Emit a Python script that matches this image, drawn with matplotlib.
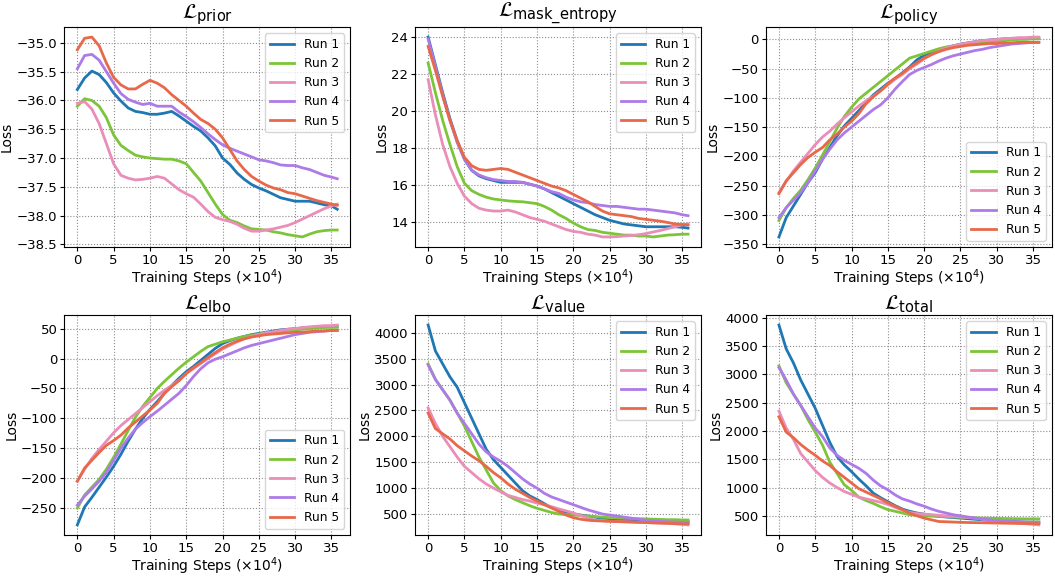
import matplotlib
matplotlib.use('Agg')
import matplotlib.pyplot as plt
from matplotlib.ticker import MultipleLocator

steps = list(range(36)) + [35.8]
run_names = ['Run 1', 'Run 2', 'Run 3', 'Run 4', 'Run 5']
run_colors = ['#1f77b4', '#7cc539', '#ea8db8', '#ad7ae8', '#e8684a']

prior = [
    [-35.81, -35.61, -35.49, -35.55, -35.69, -35.87, -36.01, -36.13, -36.19, -36.21, -36.24, -36.24,
     -36.22, -36.19, -36.27, -36.36, -36.45, -36.53, -36.65, -36.79, -37.0, -37.11, -37.26, -37.37,
     -37.46, -37.52, -37.57, -37.63, -37.69, -37.72, -37.75, -37.75, -37.75, -37.78, -37.81, -37.83, -37.89],
    [-36.1, -35.97, -36.0, -36.1, -36.3, -36.6, -36.78, -36.87, -36.95, -36.98, -37.0, -37.01,
     -37.02, -37.02, -37.05, -37.1, -37.25, -37.4, -37.6, -37.8, -37.98, -38.08, -38.12, -38.18,
     -38.23, -38.24, -38.25, -38.28, -38.3, -38.33, -38.35, -38.37, -38.32, -38.28, -38.26, -38.25, -38.25],
    [-36.05, -36.02, -36.15, -36.4, -36.75, -37.1, -37.3, -37.35, -37.38, -37.37, -37.35, -37.32,
     -37.35, -37.45, -37.55, -37.62, -37.68, -37.8, -37.93, -38.03, -38.07, -38.1, -38.15, -38.22,
     -38.27, -38.27, -38.25, -38.23, -38.2, -38.17, -38.12, -38.06, -38.0, -37.94, -37.88, -37.83, -37.8],
    [-35.45, -35.22, -35.2, -35.3, -35.5, -35.7, -35.88, -35.98, -36.03, -36.07, -36.05, -36.1,
     -36.1, -36.1, -36.2, -36.28, -36.37, -36.47, -36.58, -36.68, -36.77, -36.83, -36.88, -36.93,
     -36.98, -37.03, -37.05, -37.08, -37.12, -37.13, -37.13, -37.17, -37.2, -37.25, -37.3, -37.33, -37.36],
    [-35.12, -34.92, -34.9, -35.05, -35.35, -35.6, -35.73, -35.8, -35.8, -35.72, -35.65, -35.7,
     -35.78, -35.9, -36.0, -36.1, -36.22, -36.33, -36.4, -36.5, -36.65, -36.85, -37.05, -37.2,
     -37.32, -37.4, -37.47, -37.52, -37.55, -37.6, -37.62, -37.66, -37.7, -37.74, -37.77, -37.8, -37.82],
]

mask_entropy = [
    [24.0, 22.5, 21.0, 19.6, 18.4, 17.4, 16.8, 16.5, 16.35, 16.25, 16.15, 16.15, 16.15, 16.15, 16.05,
     15.95, 15.8, 15.6, 15.4, 15.2, 15.0, 14.8, 14.6, 14.4, 14.25, 14.1, 14.0, 13.9, 13.85, 13.8,
     13.75, 13.75, 13.75, 13.75, 13.75, 13.72, 13.68],
    [22.6, 21.0, 19.5, 18.2, 17.0, 16.1, 15.7, 15.5, 15.35, 15.25, 15.2, 15.15, 15.12, 15.1, 15.05,
     15.0, 14.85, 14.65, 14.4, 14.2, 13.95, 13.75, 13.6, 13.55, 13.45, 13.4, 13.35, 13.3, 13.3, 13.25,
     13.25, 13.2, 13.25, 13.3, 13.32, 13.35, 13.35],
    [21.7, 19.8, 18.2, 17.0, 16.1, 15.4, 15.0, 14.75, 14.65, 14.6, 14.6, 14.65, 14.55, 14.4, 14.25,
     14.15, 14.05, 13.9, 13.75, 13.6, 13.5, 13.45, 13.35, 13.3, 13.2, 13.2, 13.22, 13.25, 13.28, 13.32,
     13.38, 13.47, 13.55, 13.65, 13.75, 13.85, 13.9],
    [23.9, 22.4, 20.9, 19.5, 18.3, 17.4, 16.8, 16.55, 16.4, 16.3, 16.25, 16.2, 16.2, 16.15, 16.05,
     15.95, 15.8, 15.65, 15.55, 15.35, 15.2, 15.1, 15.05, 14.95, 14.9, 14.85, 14.85, 14.8, 14.75, 14.7,
     14.7, 14.65, 14.6, 14.55, 14.5, 14.4, 14.35],
    [23.5, 22.2, 20.8, 19.5, 18.4, 17.5, 17.05, 16.85, 16.8, 16.85, 16.9, 16.85, 16.7, 16.55, 16.4,
     16.25, 16.1, 15.95, 15.85, 15.7, 15.5, 15.3, 15.1, 14.85, 14.6, 14.45, 14.4, 14.35, 14.3, 14.2,
     14.15, 14.1, 14.05, 13.98, 13.9, 13.87, 13.85],
]

policy = [
    [-338, -305, -285, -265, -245, -228, -205, -185, -165, -148, -135, -122, -108, -95, -85, -75, -67,
     -57, -47, -35, -27, -22, -18, -14, -11, -8, -6, -4, -2, -1, 0, 1, 1, 2, 2, 2, 2],
    [-310, -288, -272, -258, -240, -220, -198, -175, -152, -132, -116, -102, -92, -82, -72, -62, -52,
     -42, -32, -28, -24, -20, -16, -13, -11, -9, -7, -6, -5, -4, -3, -2, -1, 0, 0, 1, 1],
    [-262, -243, -225, -210, -195, -180, -167, -157, -145, -134, -124, -114, -105, -97, -88, -78, -68,
     -60, -50, -42, -33, -26, -20, -15, -11, -8, -6, -4, -2, -1, 0, 1, 2, 3, 3, 4, 4],
    [-305, -288, -275, -262, -245, -225, -205, -188, -172, -160, -150, -140, -130, -120, -112, -100, -85,
     -72, -60, -53, -48, -43, -37, -32, -28, -25, -22, -19, -17, -14, -12, -10, -8, -7, -6, -5, -5],
    [-264, -242, -228, -214, -202, -193, -185, -172, -162, -150, -140, -127, -110, -98, -88, -76, -66,
     -58, -48, -40, -32, -26, -21, -17, -14, -12, -10, -9, -8, -7, -7, -6, -6, -5, -5, -5, -5],
]

elbo = [
    [-278, -248, -232, -215, -198, -180, -160, -138, -118, -100, -85, -72, -58, -45, -33, -22, -13,
     -3, 7, 17, 25, 30, 34, 37, 40, 42, 44, 46, 48, 49, 50, 51, 52, 53, 53, 54, 54],
    [-250, -228, -215, -202, -185, -165, -143, -120, -98, -80, -65, -50, -38, -27, -16, -6, 3,
     12, 20, 24, 28, 31, 34, 37, 39, 41, 43, 44, 46, 47, 48, 49, 50, 51, 52, 52, 52],
    [-205, -185, -167, -152, -138, -124, -112, -102, -92, -82, -72, -62, -53, -45, -36, -25, -17,
     -8, 0, 8, 16, 22, 28, 33, 37, 40, 43, 45, 47, 49, 50, 52, 53, 54, 55, 55, 56],
    [-245, -230, -218, -205, -190, -170, -150, -133, -118, -107, -97, -88, -78, -68, -58, -45, -30,
     -17, -7, -1, 3, 8, 13, 18, 22, 25, 28, 31, 34, 37, 40, 42, 44, 45, 46, 47, 47],
    [-205, -183, -170, -157, -145, -137, -128, -116, -106, -96, -86, -75, -58, -47, -37, -25, -15,
     -7, 2, 10, 18, 24, 29, 33, 36, 38, 40, 41, 42, 43, 44, 44, 45, 46, 46, 47, 47],
]

value = [
    [4150, 3650, 3400, 3150, 2950, 2650, 2350, 2050, 1750, 1550, 1400, 1250, 1100, 950, 850, 780, 700,
     620, 580, 540, 500, 480, 460, 440, 420, 410, 400, 390, 380, 375, 370, 365, 360, 355, 350, 350, 350],
    [3400, 3100, 2900, 2700, 2450, 2200, 1900, 1600, 1350, 1100, 950, 850, 780, 720, 660, 610, 570,
     530, 500, 490, 480, 470, 460, 450, 440, 430, 425, 420, 415, 410, 405, 400, 395, 390, 390, 385, 385],
    [2550, 2250, 2000, 1800, 1600, 1420, 1300, 1180, 1080, 1000, 930, 860, 820, 780, 750, 710, 680,
     640, 600, 560, 520, 470, 420, 380, 370, 360, 355, 350, 345, 340, 335, 330, 325, 320, 310, 300, 290],
    [3380, 3100, 2900, 2700, 2450, 2250, 2050, 1850, 1700, 1600, 1520, 1420, 1300, 1180, 1080, 1000, 900,
     830, 780, 730, 680, 630, 580, 540, 500, 480, 460, 440, 420, 400, 380, 370, 360, 350, 345, 340, 340],
    [2450, 2150, 2050, 1950, 1820, 1720, 1620, 1530, 1420, 1300, 1200, 1080, 980, 900, 820, 750, 680,
     620, 550, 480, 430, 400, 380, 370, 365, 360, 355, 350, 345, 340, 335, 330, 325, 320, 315, 310, 310],
]

total = [
    [3870, 3450, 3200, 2900, 2650, 2400, 2100, 1800, 1550, 1400, 1280, 1150, 1030, 900, 820, 750, 680,
     620, 580, 550, 530, 510, 490, 480, 470, 460, 450, 440, 430, 420, 410, 400, 400, 395, 390, 390, 390],
    [3150, 2850, 2650, 2450, 2200, 1980, 1750, 1450, 1250, 1050, 950, 830, 770, 720, 660, 610, 580,
     550, 520, 510, 500, 495, 490, 485, 480, 475, 470, 465, 460, 458, 455, 452, 450, 448, 446, 445, 445],
    [2350, 2050, 1850, 1600, 1450, 1300, 1180, 1080, 1000, 930, 880, 830, 800, 770, 740, 700, 650,
     600, 560, 540, 530, 520, 510, 500, 490, 480, 470, 460, 440, 420, 400, 390, 380, 370, 360, 350, 340],
    [3120, 2900, 2650, 2450, 2250, 2050, 1900, 1700, 1570, 1480, 1410, 1340, 1250, 1130, 1030, 960, 870,
     800, 760, 710, 670, 620, 580, 550, 520, 500, 480, 460, 445, 430, 420, 410, 400, 395, 390, 385, 385],
    [2250, 1980, 1880, 1760, 1660, 1570, 1470, 1390, 1280, 1180, 1080, 980, 920, 860, 800, 730, 670,
     610, 550, 500, 460, 430, 400, 395, 390, 385, 382, 380, 378, 375, 373, 370, 368, 366, 365, 363, 362],
]

# (data, title, legend position, y tick step)
panels = [
    (prior, r'$\mathcal{L}_{\mathrm{prior}}$', 'upper right', None),
    (mask_entropy, r'$\mathcal{L}_{\mathrm{mask\_entropy}}$', 'upper right', None),
    (policy, r'$\mathcal{L}_{\mathrm{policy}}$', 'lower right', None),
    (elbo, r'$\mathcal{L}_{\mathrm{elbo}}$', 'lower right', None),
    (value, r'$\mathcal{L}_{\mathrm{value}}$', 'upper right', 500),
    (total, r'$\mathcal{L}_{\mathrm{total}}$', 'upper right', 500),
]

fig, axes = plt.subplots(2, 3, figsize=(10.55, 5.77), dpi=100)
fig.subplots_adjust(left=0.061, right=0.997, top=0.953, bottom=0.073, wspace=0.227, hspace=0.31)

for ax, (runs, title, loc, ystep) in zip(axes.flat, panels):
    for vals, name, col in zip(runs, run_names, run_colors):
        ax.plot(steps, vals, color=col, lw=2, label=name)
    ax.set_title(title, fontsize=15, pad=3)
    ax.set_xlabel(r'Training Steps ($\times 10^4$)', fontsize=10, labelpad=0.5)
    ax.set_ylabel('Loss', fontsize=10, labelpad=2)
    ax.set_xticks(range(0, 36, 5))
    if ystep:
        ax.yaxis.set_major_locator(MultipleLocator(ystep))
    ax.tick_params(labelsize=9.5, length=3, pad=2)
    ax.grid(True, linestyle=':', color='0.55', lw=0.8)
    ax.legend(loc=loc, fontsize=8.8)

plt.savefig('out.png', dpi=100)
